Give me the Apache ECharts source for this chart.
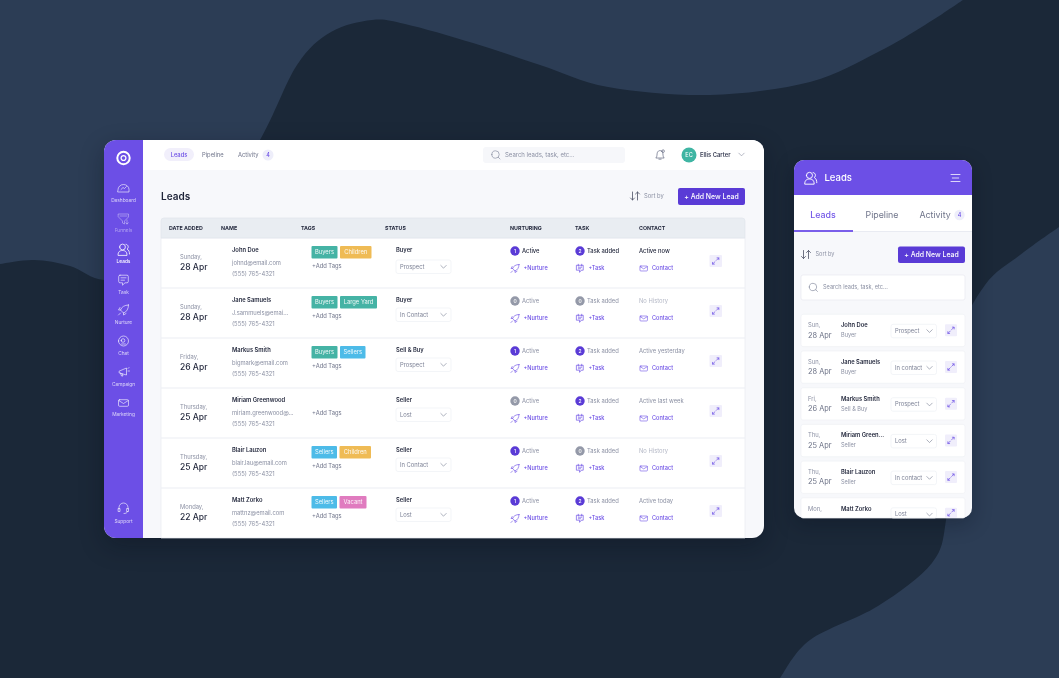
<!DOCTYPE html>
<html><head><meta charset="utf-8">
<style>html,body{margin:0;padding:0;background:#1b2838}#c{width:1059px;height:678px;filter:blur(.4px)}</style>
<script src="https://cdn.jsdelivr.net/npm/echarts@6/dist/echarts.min.js"></script>
</head><body><div id="c"></div>
<script>
const navLabels=['Dashboard','Funnels','Leads','Task','Nurture','Chat','Campaign','Marketing','Support'];
const topTabs=['Leads','Pipeline','Activity'];
const columns=['DATE ADDED','NAME','TAGS','STATUS','NURTURING','TASK','CONTACT'];
const days=['Sunday,','Sunday,','Friday,','Thursday,','Thursday,','Monday,'];
const shortDays=['Sun,','Sun,','Fri,','Thu,','Thu,','Mon,'];
const dates=['28 Apr','28 Apr','26 Apr','25 Apr','25 Apr','22 Apr'];
const names=['John Doe','Jane Samuels','Markus Smith','Miriam Greenwood','Blair Lauzon','Matt Zorko'];
const shortNames=['John Doe','Jane Samuels','Markus Smith','Miriam Green...','Blair Lauzon','Matt Zorko'];
const emails=['johnd@email.com','J.sammuels@emai...','bigmark@email.com','miriam.greenwood@...','blair.lau@email.com','mattnz@email.com'];
const phone='(555) 765-4321';
const tags=[['Buyers','Children'],['Buyers','Large Yard'],['Buyers','Sellers'],[],['Sellers','Children'],['Sellers','Vacant']];
const leadTypes=['Buyer','Buyer','Sell & Buy','Seller','Seller','Seller'];
const statuses=['Prospect','In Contact','Prospect','Lost','In Contact','Lost'];
const phoneStatuses=['Prospect','In contact','Prospect','Lost','In contact','Lost'];
const nurtureCounts=[1,0,1,0,1,1];
const taskCounts=[2,0,2,2,0,2];
const contacts=['Active now','No History','Active yesterday','Active last week','No History','Active today'];

const F='Inter,"Open Sans",sans-serif';
const P='#6c4fe6',PD='#5a3bd6',INK='#1f2439',GR='#8b90a3',LG='#b4b8c6';
const tagColor={Buyers:'#45b3a5',Children:'#efbb55','Large Yard':'#45b3a5',Sellers:'#4dbbe8',Vacant:'#e07bbf'};
const tagW={Buyers:26,Children:31.5,'Large Yard':37,Sellers:25.5,Vacant:27};
const G=[];
const circ=(x,y,r)=>`M${x-r} ${y}A${r} ${r} 0 1 0 ${x+r} ${y}A${r} ${r} 0 1 0 ${x-r} ${y}Z`;
const ICON={
 dash:'M-5.5 1.5A5.5 5 0 0 1 5.5 1.5V4H-5.5Z M-2.5 1.5L-.5 -.5L1 .5L3 -1.5',
 funnel:'M-5 -5H5V-2L1 2V5L-1 4V2L-5 -2Z M-3.5 -3H3.5 M3.5 1V5 M2.2 3.8L3.5 5L4.8 3.8',
 users:circ(-1,-2.5,2.9)+'M-5.5 5.5C-5.5 2 -3.5 1 -1 1C1.5 1 3.5 2 3.5 5.5Z M2.5 -5.2C5 -5 5.5 -1.5 3.5 -.5C5.5 .5 6 2.5 6 4.5',
 task:'M-3.5 -4.8H3.5Q4.8 -4.8 4.8 -3.5V1.5Q4.8 2.8 3.5 2.8H1.5L-1 5.2V2.8H-3.5Q-4.8 2.8 -4.8 1.5V-3.5Q-4.8 -4.8 -3.5 -4.8Z M-2.5 -2.2H2.5 M-2.5 .2H1',
 rocket:'M5 -5C1 -5 -2 -3 -3 0L0 3C3 2 5 -1 5 -5Z M-3 0H-5L-3.5 -2.5 M0 3V5L2.5 3.5 M-3 3L-5 5',
 chat:circ(0,0,5)+circ(-.5,-.5,1.8)+'M-2 3H2',
 camp:'M-4 -1L3 -4V3L-4 1Z M-3 1L-2 4H-.5L-1.5 1.5 M4.5 -3.5L5.5 -4.5 M4.5 -1H6',
 mail:'M-3.8 -3.3H3.8Q5 -3.3 5 -2.2V2.2Q5 3.3 3.8 3.3H-3.8Q-5 3.3 -5 2.2V-2.2Q-5 -3.3 -3.8 -3.3Z M-4.8 -2.5L0 .5L4.8 -2.5',
 help:'M-4.5 1V-.5A4.5 4.5 0 0 1 4.5 -.5V1 M-5 .5H-3.5V3.5H-5Z M3.5 .5H5V3.5H3.5Z M4 3.5C4 5 2 5.5 .5 5.5',
 expand:'M.8 -.8L3.3 -3.3 M1.5 -3.5H3.5V-1.5 M-.8 .8L-3.3 3.3 M-3.5 1.5V3.5H-1.5',
 chev:'M-3 -1.5L0 1.5L3 -1.5',
 search:circ(-.5,-.5,3.7)+'M2.2 2.2L4 4',
 bell:'M-3.5 2.5C-2.5 1.5 -2.8 -1 -2.5 -2C-2 -3.5 -1 -4 0 -4C1 -4 2 -3.5 2.5 -2C2.8 -1 2.5 1.5 3.5 2.5Z M-1 3.8H1'+circ(2.8,-3.5,1.2),
 menu:'M-4.5 -3.5H4.5 M-3.2 0H3.2 M-4.5 3.5H4.5',
 sort:'M-2.5 -4V4 M-4.5 2L-2.5 4L-.5 2 M2.5 4V-4 M.5 -2L2.5 -4L4.5 -2',
 taskAdd:'M-3.8 -3.8H3.8V2H1.5L-.5 4.5V2H-3.8Z M-2 -1.5H2 M-2 .3H.8 M-2 -5V-3 M2 -5V-3'
};
function rect(x,y,w,h,fill,r,stroke,extra){G.push({type:'rect',shape:{x,y,width:w,height:h,r:r||0},style:Object.assign({fill,stroke:stroke||'none',lineWidth:stroke?.7:0},extra||{})});}
function text(x,y,s,size,fill,weight,align){G.push({type:'text',style:{x,y:y+.6,text:s,fill,fontSize:size,fontFamily:F,fontWeight:weight||400,align:align||'left',verticalAlign:'middle'}});}
function icon(n,x,y,color,s,lw){G.push({type:'path',x,y,scaleX:s||1,scaleY:s||1,shape:{pathData:ICON[n]},style:{fill:'none',stroke:color,lineWidth:lw||.8,lineJoin:'round',lineCap:'round'}});}
function disc(x,y,r,fill){G.push({type:'circle',shape:{cx:x,cy:y,r},style:{fill}});}
function spline(p){let d=`M${p[0][0]} ${p[0][1]}`;for(let i=0;i<p.length-1;i++){const a=p[i-1]||p[i],b=p[i],c=p[i+1],e=p[i+2]||c;d+=`C${b[0]+(c[0]-a[0])/6} ${b[1]+(c[1]-a[1])/6} ${c[0]-(e[0]-b[0])/6} ${c[1]-(e[1]-b[1])/6} ${c[0]} ${c[1]}`;}return d;}
function blob(pts,tail){G.push({type:'path',shape:{pathData:spline(pts)+tail+'Z'},style:{fill:'#2c3d55'}});}

// background
rect(0,0,1059,678,'#1b2838');
blob([[0,264],[34,260],[70,266],[104,280],[150,270],[210,215],[260,140],[297,65],[331,32],[372,20],[405,24],[473,43],[540,65],[608,87],[710,95],[810,82],[878,52],[925,25],[963,0]],'L0 0');
blob([[1059,227],[1020,255],[985,285],[960,340],[950,450],[946,520],[932,563],[878,606],[810,640],[780,678]],'L1059 678');

// main card
rect(104,140,660,398,'#f7f8fb',12,null,{shadowBlur:24,shadowColor:'rgba(5,12,25,.32)',shadowOffsetY:8});
rect(104,140,39,398,P,[12,0,0,12]);
rect(143,140,621,30,'#fff',[0,12,0,0]);
// sidebar
G.push({type:'path',x:123.5,y:158,shape:{pathData:circ(0,0,6.2)},style:{fill:'none',stroke:'#fff',lineWidth:2}});
G.push({type:'path',x:123.5,y:158,shape:{pathData:circ(0,0,2.4)},style:{fill:'none',stroke:'#fff',lineWidth:1.3}});
const navIcons=['dash','funnel','users','task','rocket','chat','camp','mail','help'];
const navIconY=[188,219,249.5,280,310,341,372,403,508];
const navLabelY=[199.5,230,261,291.5,322,353,383.5,414,521];
navLabels.forEach((l,i)=>{const c=i===2?'#ffffff':i===1?'rgba(255,255,255,.45)':'rgba(255,255,255,.75)';
 icon(navIcons[i],123.5,navIconY[i],c,1,.8);text(123.5,navLabelY[i],l,4.8,c,i===2?500:400,'center');});
// top bar
rect(164,148,30,13,'#f1effb',6.5);
text(179,155,topTabs[0],5.8,P,500,'center');
text(202,155,topTabs[1],5.8,'#6f748a',400);
text(238,155,topTabs[2],5.8,'#6f748a',400);
disc(268,155,5.5,'#eeeefa');text(268,155,'4',5.5,P,500,'center');
rect(483,147,142,16,'#f6f7fa',3);
icon('search',496,155,'#8b90a3',1,.7);
text(505,155,'Search leads, task, etc...',6,GR);
icon('bell',660,155,'#6f748a',1.1,.7);
disc(689,155,7.5,'#3fb5a3');text(689,155,'EC',5.5,'#fff',500,'center');
text(700,155,'Ellis Carter',5.8,'#3a3f55',600);
icon('chev',741.5,154.5,'#8b90a3',.9,.7);
// page head
text(161,196,'Leads',10,INK,600);
icon('sort',635,196,'#4a4f65',1,.8);
text(644,196,'Sort by',5.8,GR);
rect(678,188,67,17,PD,2);
text(711.5,196,'+ Add New Lead',6.9,'#fff',500,'center');
// table
rect(161,238,584,300,'#fff',0,'#e8ebf1');
rect(161,218,584,20,'#e9edf2',[3,3,0,0],'#e1e5ec');
const colX=[169,221,301,385,510,575,639];
columns.forEach((c,i)=>text(colX[i],227.5,c,5.3,INK,700));
names.forEach((n,i)=>{
 const y=238+i*50;
 if(i)rect(161,y-.5,584,1,'#eceef3');
 text(180,y+18.2,days[i],5.8,GR);
 text(180,y+29.2,dates[i],8.5,INK,500);
 text(232,y+11.8,n,5.8,INK,600);
 text(232,y+24.2,emails[i],5.8,GR);
 text(232,y+35.5,phone,5.8,GR);
 let tx=311.5;
 tags[i].forEach(t=>{rect(tx,y+8,tagW[t],12.5,tagColor[t],1);text(tx+tagW[t]/2,y+13.7,t,5.8,'rgba(255,255,255,.92)',400,'center');tx+=tagW[t]+2.5;});
 text(312,y+(tags[i].length?27.5:24.5),'+Add Tags',5.8,'#6f748a');
 text(396,y+11.8,leadTypes[i],5.8,'#2c3145',600);
 const sy=y+(i===0?22:20);
 rect(396,sy,55,13.5,'#fff',2,'#eef0f5');
 text(400,sy+6.2,statuses[i],5.8,'#7d8296');
 icon('chev',443.5,sy+6.8,'#7d8296',.9,.7);
 const on=i===0;
 disc(515,y+13,4.7,nurtureCounts[i]?PD:'#9499a8');text(515,y+12.5,String(nurtureCounts[i]),5,'#fff',500,'center');
 text(522,y+12.5,'Active',5.8,on?INK:GR,on?500:400);
 icon('rocket',515,y+30.5,P,.8,.8);text(523.5,y+30,'+Nurture',5.6,P,500);
 disc(580,y+13,4.7,taskCounts[i]?PD:'#9499a8');text(580,y+12.5,String(taskCounts[i]),5,'#fff',500,'center');
 text(587,y+12.5,'Task added',5.8,on?INK:GR,on?500:400);
 icon('taskAdd',580,y+30.5,P,.85,.8);text(588.5,y+30,'+Task',5.6,P,500);
 const nh=contacts[i]==='No History';
 text(639,y+12.5,contacts[i],5.8,on?INK:nh?LG:GR,on?500:400);
 icon('mail',643.7,y+30.5,P,.75,.8);text(652,y+30,'Contact',5.6,P,500);
 rect(709.5,y+17,12.5,12,'#f0eefb',1);icon('expand',715.7,y+23,P,.9,.8);
});

// phone
rect(794,160,178,358,'#f7f8fb',10,null,{shadowBlur:20,shadowColor:'rgba(5,12,25,.3)',shadowOffsetY:6});
rect(794,160,178,35,P,[10,10,0,0]);
rect(794,195,178,37,'#fff');
icon('users',810.5,178,'#fff',1.05,.9);
text(824.5,177.5,'Leads',9.5,'#fff',500);
icon('menu',955.5,178,'rgba(255,255,255,.85)',1,.9);
text(823,214.5,topTabs[0],8.8,'#7357e8',500,'center');
text(882,214.5,topTabs[1],8.8,'#6f748a',400,'center');
text(919.5,214.5,topTabs[2],8.8,'#6f748a',400);
disc(959.5,215,5.2,'#eeeefa');text(959.5,214.5,'4',5.5,P,500,'center');
rect(794,231,178,1,'#e9ebf2');
rect(794,230,59,2,'#7a5fea');
icon('sort',806,254.5,'#4a4f65',1,.8);
text(815.5,254,'Sort by',5.6,GR);
rect(898,246.5,67,16.5,PD,2);
text(931.5,254.2,'+ Add New Lead',6.9,'#fff',500,'center');
rect(801,275,164,25,'#fff',2,'#e8eaf0');
icon('search',813.5,287.5,'#8b90a3',1,.7);
text(823,286.5,'Search leads, task, etc...',5.6,GR);
shortNames.forEach((n,i)=>{
 const y=314.3+i*36.7,last=i===5;
 rect(801,y,164,last?518-y:32.3,'#fff',2,'#eff1f5');
 text(808,y+10.5,shortDays[i],5.8,GR);
 text(841,y+10.5,n,5.8,INK,600);
 if(!last){text(808,y+20.5,dates[i],7.4,'#6a7085');text(841,y+20.8,leadTypes[i],5.6,GR);}
 const h=last?518-(y+10):13.5;
 rect(891,y+10,45.5,h,'#fff',2,'#eef0f5');
 text(895,y+16.2,phoneStatuses[i],5.8,'#7d8296');
 icon('chev',929.5,y+16.8,'#7d8296',.9,.7);
 rect(945,y+10,12,last?518-(y+10):12,'#f0eefb',1);
 icon('expand',951,last?y+15:y+16,P,.9,.8);
});
const chart=echarts.init(document.getElementById('c'),null,{width:1059,height:678});
chart.setOption({animation:false,series:[{type:'custom',coordinateSystem:'none',silent:true,clip:false,data:[[0]],renderItem:()=>({type:'group',children:G})}]});
</script></body></html>
